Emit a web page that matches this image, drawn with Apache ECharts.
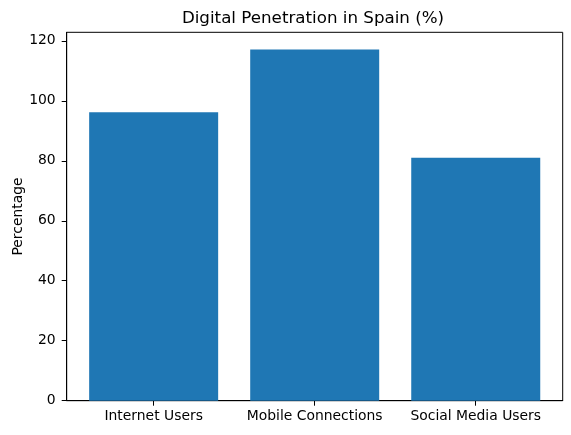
<!DOCTYPE html>
<html lang="en">
<head>
    <meta charset="UTF-8">
    <title>Digital Penetration in Spain</title>
    <script src="https://cdn.jsdelivr.net/npm/echarts@6.0.0/dist/echarts.min.js"></script>
    <style>
        * { margin: 0; padding: 0; }
        body { background: #fff; }
        #chart { width: 571px; height: 435px; }
    </style>
</head>
<body>
    <div id="chart"></div>
    <script>
        const categories = ['Internet Users', 'Mobile Connections', 'Social Media Users'];
        const percentages = [96.2, 117.1, 81];
        const yTicks = [0, 20, 40, 60, 80, 100, 120];

        const font = 'DejaVu Sans';
        const positions = categories.map((c, i) => i);

        const chart = echarts.init(document.getElementById('chart'), null, { renderer: 'canvas' });

        chart.setOption({
            animation: false,
            title: {
                text: 'Digital Penetration in Spain (%)',
                left: 308,
                textAlign: 'center',
                top: 5,
                textStyle: { fontFamily: font, fontSize: 16.7, fontWeight: 'normal', color: '#000' }
            },
            grid: {
                left: 66.7, right: 8.3, top: 32.3, bottom: 34.3,
                show: true, borderColor: '#000', borderWidth: 1,
                containLabel: false,
                outerBoundsMode: 'none'
            },
            xAxis: {
                type: 'value',
                min: -0.54,
                max: 2.54,
                splitLine: { show: false },
                axisLine: { lineStyle: { color: '#000', width: 1 } },
                axisTick: { customValues: positions, length: 5, lineStyle: { color: '#000' } },
                axisLabel: {
                    customValues: positions,
                    formatter: v => categories[Math.round(v)],
                    margin: 9,
                    fontFamily: font, fontSize: 13.9, color: '#000'
                }
            },
            yAxis: {
                type: 'value',
                min: 0,
                max: 122.85,
                name: 'Percentage',
                nameLocation: 'middle',
                nameGap: 41,
                nameMoveOverlap: false,
                nameTextStyle: { fontFamily: font, fontSize: 13.9, color: '#000' },
                splitLine: { show: false },
                axisLine: { show: true, onZero: false, lineStyle: { color: '#000', width: 1 } },
                axisTick: { show: true, customValues: yTicks, length: 5, lineStyle: { color: '#000' } },
                axisLabel: {
                    customValues: yTicks,
                    margin: 11,
                    fontFamily: font, fontSize: 13.9, color: '#000'
                }
            },
            series: [{
                type: 'bar',
                data: percentages.map((v, i) => [positions[i], v]),
                barWidth: 129,
                itemStyle: { color: '#1f77b4' }
            }]
        });
    </script>
</body>
</html>
